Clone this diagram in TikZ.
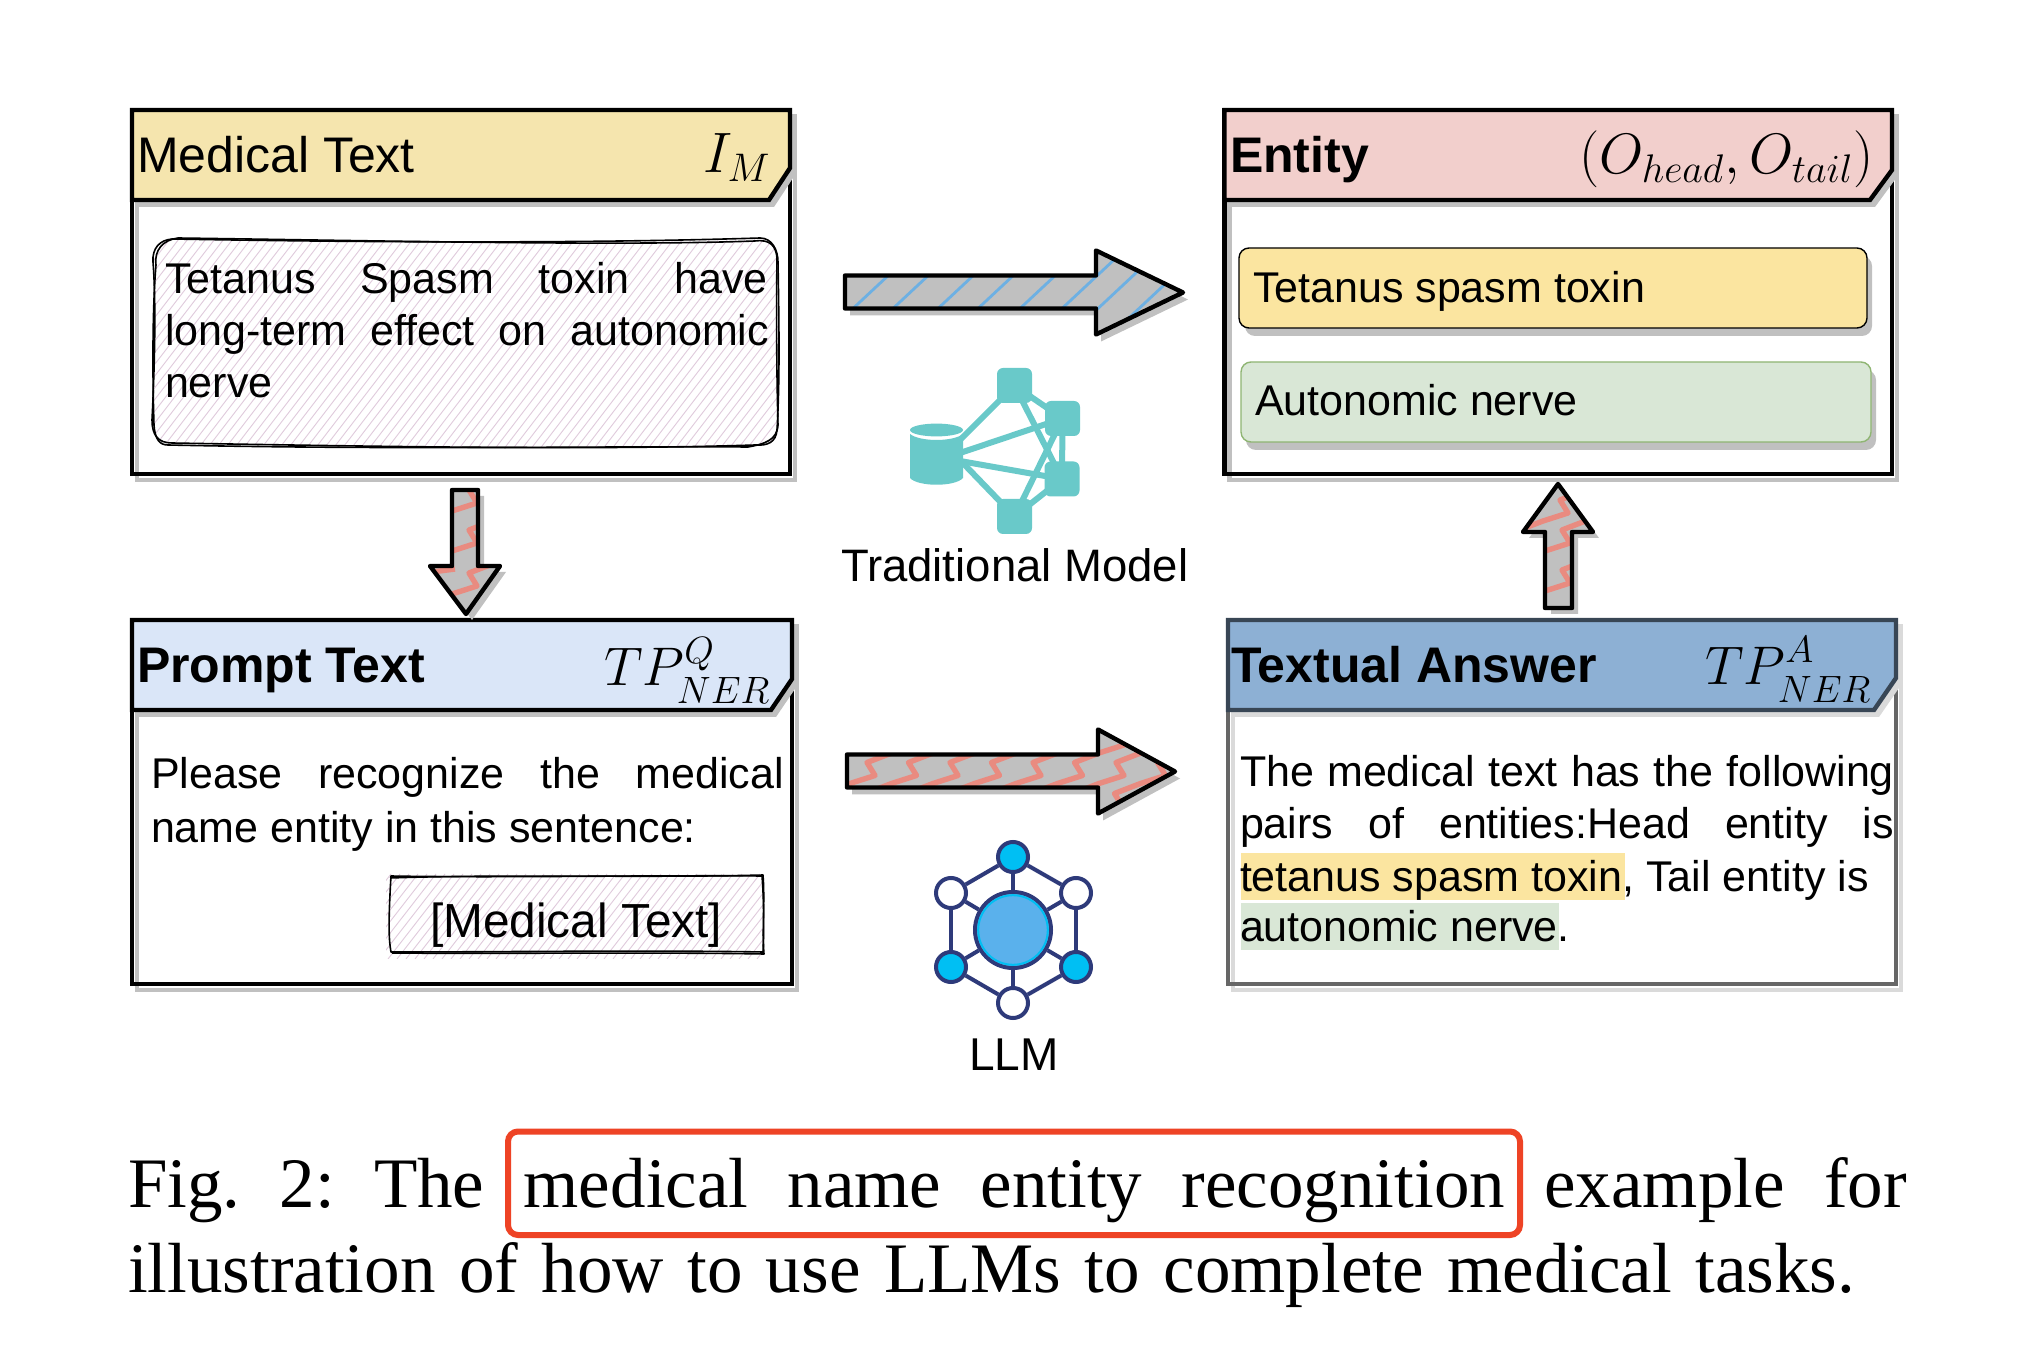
\RequirePackage{fix-cm}
\documentclass[tikz,border=0pt]{standalone}
\usepackage{fontspec}
\setmainfont{Liberation Sans}
\newfontfamily\capfont{Liberation Serif}
\definecolor{shgray}{HTML}{C0C0C0}
\definecolor{shlight}{HTML}{DADADA}
\definecolor{yelhead}{HTML}{F5E5AE}
\definecolor{redhead}{HTML}{F2CFCC}
\definecolor{bluehead}{HTML}{DAE6F8}
\definecolor{deephead}{HTML}{8DB0D4}
\definecolor{yelbox}{HTML}{FBE5A0}
\definecolor{grnbox}{HTML}{D9E7D6}
\definecolor{grnline}{HTML}{8FB573}
\definecolor{hatchc}{HTML}{E0CBDC}
\definecolor{zigc}{HTML}{E98B80}
\definecolor{bluehatch}{HTML}{6DB0E3}
\definecolor{teal}{HTML}{69C9C9}
\definecolor{navy}{HTML}{2E3A7A}
\definecolor{cyanc}{HTML}{00BFF3}
\definecolor{midblue}{HTML}{5AB1EC}
\definecolor{redbox}{HTML}{EE4325}
\let\gp\hfil
\newcommand{\J}[2]{\hbox to #1pt{#2}}
\newcommand{\lowsub}[1]{\raisebox{-2.2pt}{$\scriptstyle #1$}}
\newcommand{\hisup}[1]{\raisebox{1.2pt}{$\scriptstyle #1$}}
\newcommand{\panel}[9]{%
 \def\hdr{(#1,#2) -- (#3,#2) -- (#3,#6) -- (#7,#5) -- (#1,#5) -- cycle}%
 \draw[#9,framesh] ([shift={(5,6)}]#1,#2) rectangle ([shift={(5,6)}]#3,#4);
 \draw[#9,frame] (#1,#2) rectangle (#3,#4);
 \fill[#9,headsh,shift={(5,7)}] \hdr;
 \draw[#9,head,fill=#8] \hdr;
}
\newcommand{\zigrow}[2]{%
 \draw[zigline] (#1,#2) ++(-43,31) -- ++(25,-8) -- ++(-8,-13) -- ++(26,-10) -- ++(25,-8) -- ++(-8,-13) -- ++(26,-10) -- ++(25,-8) -- ++(-8,-13) -- ++(26,-10);
}
\tikzset{
 x=0.5pt,y=-0.5pt,
 frame/.style={draw=black,line width=2.2pt},
 framesh/.style={draw=shgray,line width=2.2pt},
 head/.style={draw=black,line width=2.2pt,line join=miter},
 headsh/.style={fill=shgray},
 softpanel/.style={frame/.style={draw=black!60,line width=2.2pt},framesh/.style={draw=shlight,line width=2.2pt},head/.style={draw=black!60!deephead,line width=2.2pt},headsh/.style={fill=shlight}},
 txt/.style={anchor=base west,inner sep=0pt,outer sep=0pt},
 body/.style={txt,font=\fontsize{21.5}{26}\selectfont},
 title/.style={txt,font=\fontsize{25}{30}\selectfont},
 btitle/.style={txt,font=\fontsize{25}{30}\selectfont\bfseries},
 mth/.style={txt,font=\fontsize{28.5}{32}\selectfont},
 mthb/.style={txt,font=\fontsize{27.2}{32}\selectfont},
 capt/.style={txt,font=\capfont\fontsize{35.5}{42}\selectfont},
 sketch/.style={draw=black,line width=0.8pt,line join=round},
 hatch/.style={draw=hatchc,line width=0.45pt},
 tag/.style={rounded corners=5pt,line width=0.7pt},
 arrowsh/.style={fill=shgray},
 arrowfill/.style={fill=shgray},
 arrowline/.style={draw=black,line width=2.2pt,line join=round},
 zigline/.style={draw=zigc,line width=2.7pt,line join=round},
 bluestripe/.style={draw=bluehatch,line width=1.4pt},
 tealsq/.style={fill=teal,rounded corners=3pt,minimum size=17.5pt,inner sep=0pt},
 tealedge/.style={draw=teal,line width=3pt},
 dotw/.style={circle,draw=navy,line width=2pt,fill=white,minimum size=15pt,inner sep=0pt},
 dotc/.style={circle,draw=navy,line width=2pt,fill=cyanc,minimum size=15pt,inner sep=0pt},
 hubdot/.style={circle,draw=navy,line width=2pt,fill=midblue,minimum size=38pt,inner sep=0pt},
 netedge/.style={draw=navy,line width=2pt},
}
\begin{document}
\begin{tikzpicture}
\useasboundingbox (0,0) rectangle (2030,1368);
\fill[white] (0,0) rectangle (2030,1368);

% ===== panels
\panel{132}{110}{790}{474}{200}{168}{769}{yelhead}{}
\panel{1224.5}{110}{1892}{474}{200}{170}{1870}{redhead}{}
\panel{132}{620}{792}{984}{710}{679}{771}{bluehead}{}
\panel{1228}{620}{1896}{984}{710}{678}{1874}{deephead}{softpanel}

% ===== Medical Text panel
\node[title] (t1) at (137,173) {Medical Text};
\node[mth] (m1) at (703,173) {$I_M$};
\def\skA{(172,239) .. controls (400,243) and (600,243) .. (760,238) .. controls (772,238) and (778,250) .. (778,262) .. controls (779,320) and (780,380) .. (777,430) .. controls (776,442) and (768,446) .. (755,445) .. controls (600,450) and (400,447) .. (172,443) .. controls (158,443) and (152,435) .. (152,420) .. controls (155,360) and (156,300) .. (153,262) .. controls (152,248) and (160,240) .. (172,239) -- cycle}
\begin{scope}
\clip \skA;
\foreach \k in {0,...,90}{
  \draw[hatch] ({-10+9*\k},450) -- ({-10+9*\k+165},235);
}
\end{scope}
\draw[sketch] \skA;
\draw[sketch] (178,238) .. controls (400,241) and (620,246) .. (755,241) .. controls (770,239) and (776,246) .. (777,258) .. controls (776,320) and (777,390) .. (778,425) .. controls (777,440) and (765,444) .. (748,447) .. controls (600,446) and (400,450) .. (168,445) .. controls (160,445) and (155,440) .. (154,425) .. controls (152,360) and (153,300) .. (156,265) .. controls (154,250) and (163,240) .. (178,238);
\node[body] (l1) at (165,293.5) {\J{301.3}{Tetanus\gp Spasm\gp toxin\gp have}};
\node[body] (l2) at (165,346) {\J{302}{long-term\gp effect\gp on\gp autonomic}};
\node[body] (l3) at (165,397.5) {nerve};

% ===== Entity panel
\node[btitle] (t2) at (1230,173) {Entity};
\node[mth] (m2) at (1579,174) {$(O_{head},O_{tail})$};
\fill[shgray,rounded corners=5pt] (1245,256) rectangle (1872,336);
\draw[tag,draw=black,fill=yelbox] (1239,248) rectangle (1867,328);
\fill[shgray,rounded corners=5pt] (1246,370) rectangle (1876,450);
\draw[tag,draw=grnline,fill=grnbox] (1241,362) rectangle (1871,442);
\node[body] (e1) at (1253,302.5) {Tetanus spasm toxin};
\node[body] (e2) at (1255,415.5) {Autonomic nerve};

% ===== Prompt panel
\node[btitle] (t3) at (137,683) {Prompt Text};
\node[mthb] (m3) at (604,686) {$TP_{\lowsub{NER}}^{\hisup{Q}}$};
\node[body] (p1) at (151,789) {\J{316.5}{Please\gp recognize\gp the\gp medical}};
\node[body] (p2) at (151,842) {name entity in this sentence:};
\def\skB{(391,876) .. controls (500,878) and (650,875) .. (762,876) .. controls (764,900) and (764,930) .. (763,952) .. controls (650,950) and (500,952) .. (391,952) .. controls (389,941) and (388,926) .. (391,876) -- cycle}
\begin{scope}
\clip (386,874) rectangle (764,958);
\foreach \k in {0,...,50}{
  \draw[hatch] ({325+9*\k},959) -- ({325+9*\k+66},874);
}
\end{scope}
\draw[sketch] \skB;
\draw[sketch] (390,878) .. controls (500,874) and (650,878) .. (763,875) .. controls (765,900) and (762,930) .. (764,954) .. controls (650,952) and (500,954) .. (392,953);
\node[txt,font=\fontsize{23.9}{28}\selectfont] (p3) at (430,937) {[Medical Text]};

% ===== Textual Answer panel
\node[btitle] (t4) at (1231,683) {Textual Answer};
\node[mthb] (m4) at (1705,685) {$TP_{\lowsub{NER}}^{\hisup{A}}$};
\fill[yelbox] (1241,853) rectangle (1625,900);
\fill[grnbox] (1241,903) rectangle (1559,950);
\node[body] (a1) at (1240,787) {\J{327}{The\gp medical\gp text\gp has\gp the\gp following}};
\node[body] (a2) at (1240,839) {\J{327}{pairs\gp of\gp entities:Head\gp entity\gp is}};
\node[body] (a3) at (1240,892) {tetanus spasm toxin, Tail entity is};
\node[body] (a4) at (1240,942) {autonomic nerve.};

% ===== arrows
\begin{scope}[shift={(0,1.5)}]
\def\arT{(845,274) -- (1096,274) -- (1096,249) -- (1183,291) -- (1096,333) -- (1096,307) -- (845,307) -- cycle}
\fill[arrowsh,shift={(5,7)}] \arT;
\fill[arrowfill] \arT;
\begin{scope}
\clip \arT;
\foreach \s in {853,893,938,978,1020,1062,1098,1139,1180}{
  \draw[bluestripe] (\s,307) -- ++(-30,28);
  \draw[bluestripe] (\s,307) -- ++(62,-58);
}
\end{scope}
\draw[arrowline] \arT;

\def\arB{(847,753) -- (1098,753) -- (1098,728) -- (1175,770) -- (1098,812) -- (1098,786) -- (847,786) -- cycle}
\fill[arrowsh,shift={(5,7)}] \arB;
\fill[arrowfill] \arB;
\begin{scope}
\clip \arB;
\foreach \k in {-1,...,8}{ \zigrow{850+41.5*\k}{782} }
\end{scope}
\draw[arrowline] \arB;
\end{scope}

\begin{scope}[shift={(0,1)}]
\def\arD{(452,489) -- (478,489) -- (478,565) -- (500,565) -- (466,613) -- (430,565) -- (452,565) -- cycle}
\fill[arrowsh,shift={(6,6)}] \arD;
\fill[arrowfill] \arD;
\begin{scope}
\clip \arD;
\zigrow{452}{510}
\zigrow{452}{550}
\zigrow{452}{593}
\draw[zigline] (432,571) -- (455,568);
\end{scope}
\draw[arrowline] \arD;

\def\arU{(1545,607) -- (1572,607) -- (1572,531) -- (1593,531) -- (1558,483) -- (1523,531) -- (1545,531) -- cycle}
\fill[arrowsh,shift={(6,6)}] \arU;
\fill[arrowfill] \arU;
\begin{scope}
\clip \arU;
\zigrow{1545}{590}
\zigrow{1545}{550}
\zigrow{1543}{520}
\end{scope}
\draw[arrowline] \arU;
\end{scope}

% ===== traditional model icon
\node[tealsq] (sqT) at (1014.5,385.5) {};
\node[tealsq] (sqR) at (1062.5,418.5) {};
\node[tealsq] (sqL) at (1062,479) {};
\node[tealsq] (sqB) at (1014.5,516.5) {};
\coordinate (hubA) at (960,440);
\coordinate (hubB) at (960,453);
\coordinate (hubC) at (960,461);
\coordinate (hubD) at (960,460);
\foreach \a/\b in {hubA/sqT,hubB/sqR,hubC/sqL,hubD/sqB,sqT/sqR,sqT/sqL,sqR/sqL,sqB/sqR,sqB/sqL}{
  \draw[tealedge] (\a.center) -- (\b.center);
}
\fill[teal] (910,434) .. controls (920,442) and (953,442) .. (963,434) -- (963,478) .. controls (955,487) and (918,487) .. (910,478) -- cycle;
\fill[teal] (936.5,430) ellipse [x radius=13.25pt,y radius=3.2pt];
\node[txt,font=\fontsize{22.75}{27}\selectfont] (tm) at (841,581.5) {Traditional Model};

% ===== LLM icon
\node[dotc] (n1) at (1013,857) {};
\node[dotw] (n2) at (951,893) {};
\node[dotw] (n3) at (1076,893) {};
\node[dotc] (n4) at (951,967) {};
\node[dotc] (n5) at (1076,967) {};
\node[dotw] (n6) at (1013,1003) {};
\node[hubdot] (nc) at (1013,930) {};
\foreach \a/\b in {n1/n2,n1/n3,n2/n4,n3/n5,n4/n6,n5/n6,n1/nc,n2/nc,n3/nc,n4/nc,n5/nc,n6/nc}{
  \draw[netedge] (\a) -- (\b);
}
\draw[cyanc,line width=1pt] (nc.center) circle (17.4pt);
\node[txt,font=\fontsize{23}{26}\selectfont] (llm) at (969,1070) {LLM};

% ===== caption
\node[capt] (c1) at (128,1207.5) {\J{889.3}{Fig.\gp 2:\gp The\gp medical\gp name\gp entity\gp recognition\gp example\gp for}};
\node[capt] (c2) at (128,1292.5) {\J{863.5}{illustration\gp of\gp how\gp to\gp use\gp LLMs\gp to\gp complete\gp medical\gp tasks.}};
\draw[redbox,line width=3pt,rounded corners=5pt] (508,1131.5) rectangle (1520,1235);
\end{tikzpicture}
\end{document}
